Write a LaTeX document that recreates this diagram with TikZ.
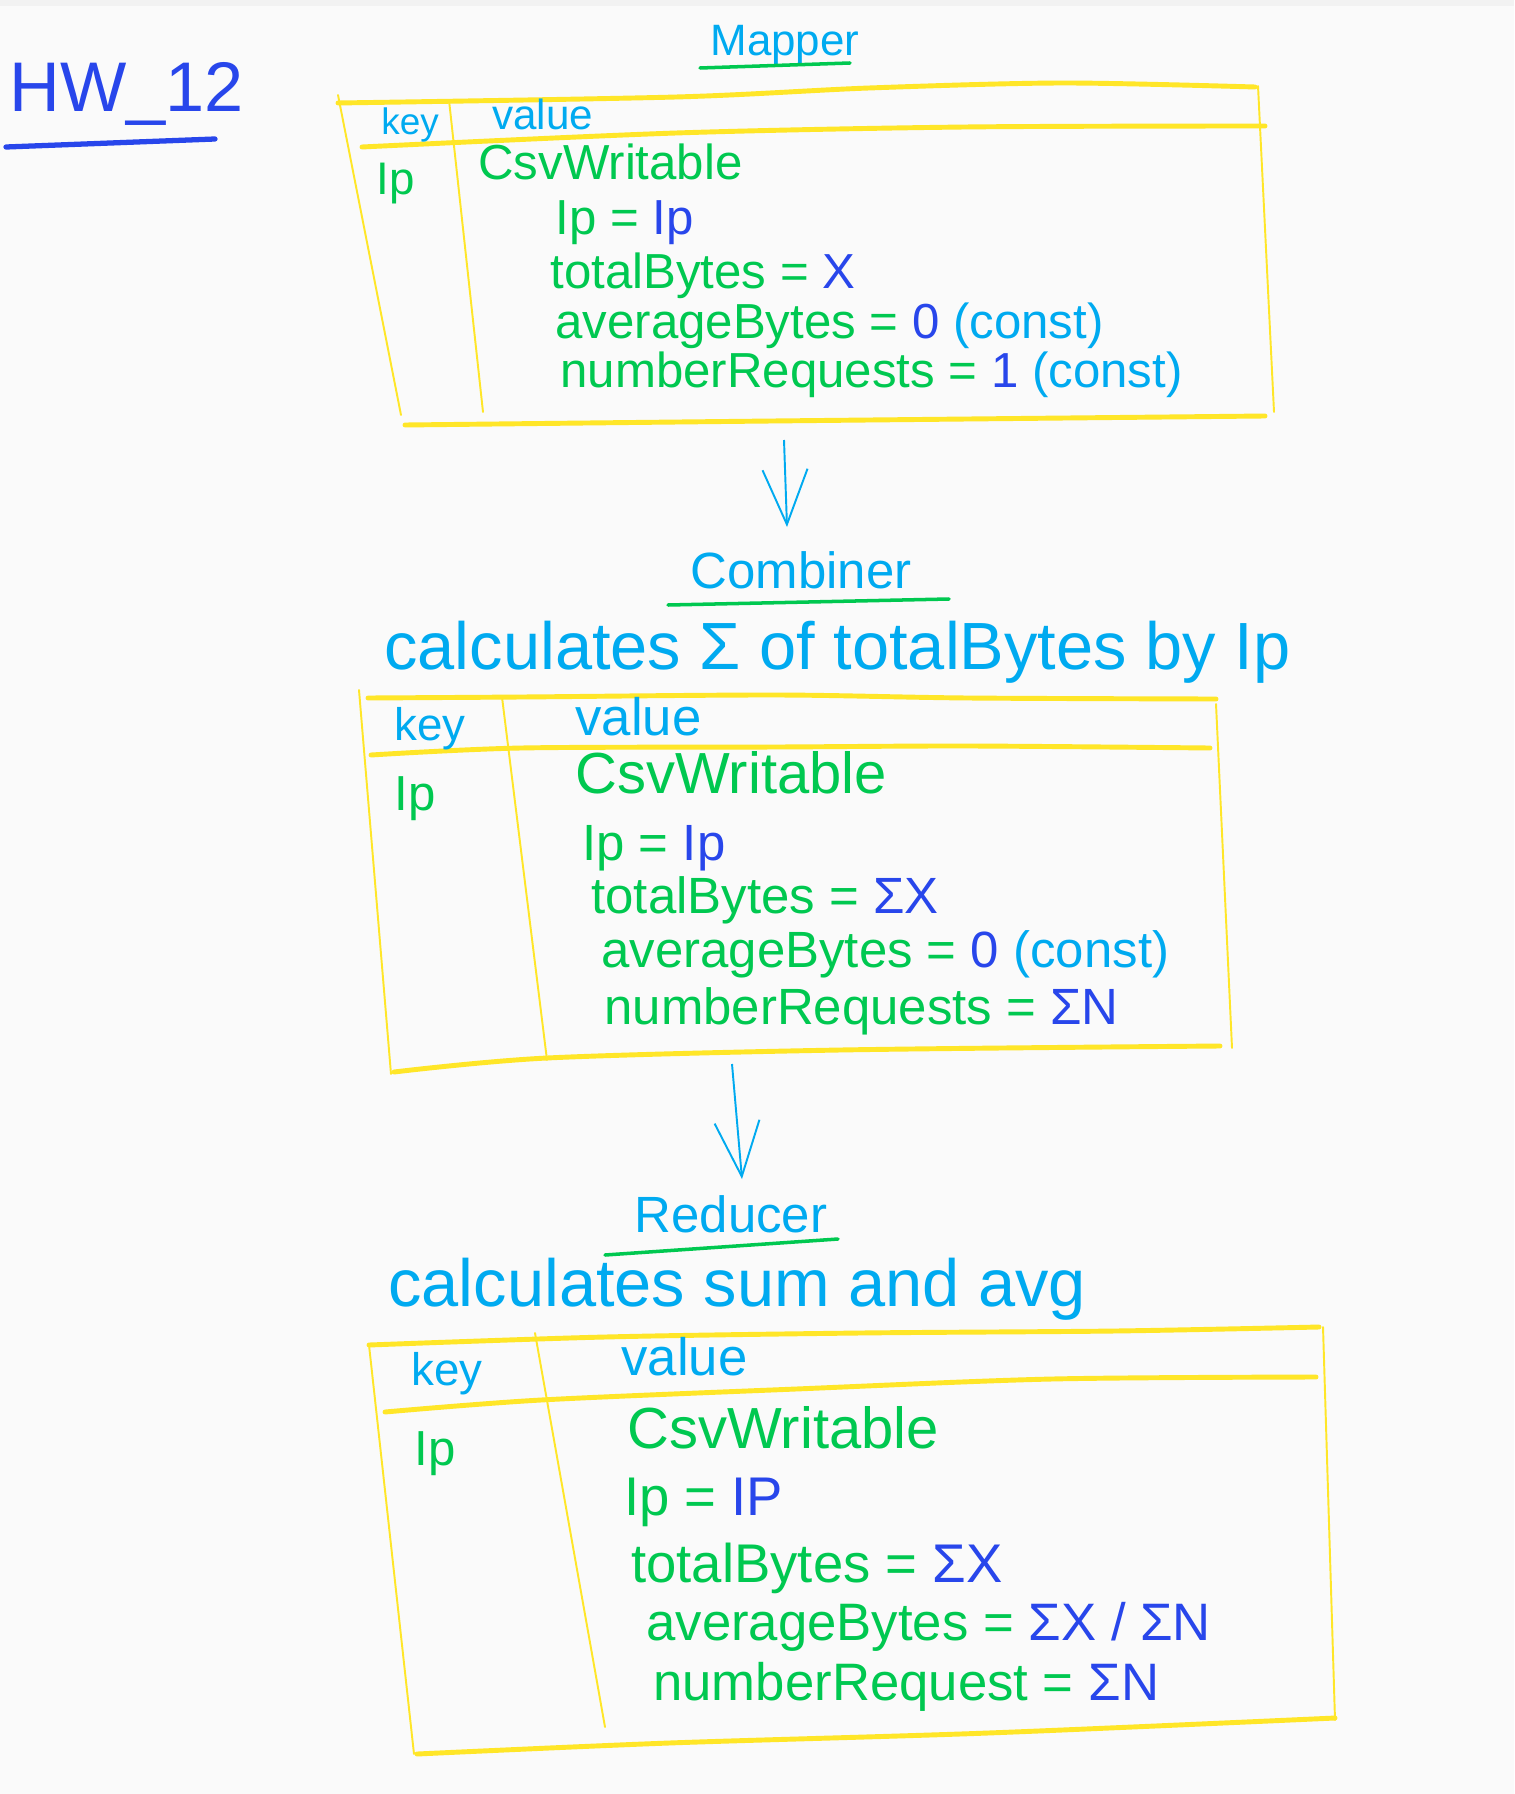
\documentclass[tikz,border=0pt]{standalone}
\usepackage{xcolor}
\usepackage{fontspec}
\setmainfont{Liberation Sans}
\usepackage{tikz}
\usetikzlibrary{arrows.meta,positioning}
\definecolor{ink}{RGB}{40,70,235}
\definecolor{sky}{RGB}{0,170,240}
\definecolor{leaf}{RGB}{0,200,80}
\definecolor{marker}{RGB}{255,230,40}
\definecolor{paper}{RGB}{250,250,250}
\newcommand{\valtxt}[1]{\textcolor{ink}{#1}}
\newcommand{\notetxt}[1]{\textcolor{sky}{#1}}

\begin{document}
\begin{tikzpicture}[
  x=0.02cm, y=-0.02cm,
  hw/.style={font=\fontsize{40}{40}\selectfont, text=ink, anchor=base west, inner sep=0pt},
  ttl/.style={font=\fontsize{#1}{#1}\selectfont, text=sky, anchor=base, inner sep=0pt},
  note/.style={font=\fontsize{38}{38}\selectfont, text=sky, anchor=base west, inner sep=0pt},
  lbl/.style={font=\fontsize{#1}{#1}\selectfont, text=sky, anchor=base west, inner sep=0pt},
  fld/.style={font=\fontsize{#1}{#1}\selectfont, text=leaf, anchor=base west, inner sep=0pt},
  rule/.style={line width=2.8pt, marker, line cap=round},
  edge/.style={line width=1.1pt, marker, line cap=round},
  uline/.style={line width=2pt, leaf, line cap=round},
  arrow/.style={-{Straight Barb[length=11mm,width=9mm]}, sky, line width=1.1pt}
]
  \fill[paper] (0,0) rectangle (1514,1794);
  \useasboundingbox (0,0) rectangle (1514,1794);
  \fill[gray!10] (0,0) rectangle (1514,6);

  % ── heading ──
  \node[hw] (hw) at (9,112) {HW\_12};
  \draw[line width=3pt, ink, line cap=round] (6,147) -- (215,139);

  % ── MAPPER ──
  \node[ttl=25] (mt) at (785,56) {Mapper};
  \draw[uline] (700,68) -- (850,63);

  \draw[rule] plot[smooth] coordinates {(338,103) (676,97) (869,88) (1062,83) (1255,87)};
  \draw[rule] plot[smooth] coordinates {(362,147) (676,133) (965,127) (1265,126)};
  \draw[rule] plot[smooth] coordinates {(405,425) (772,421) (1265,416)};
  \draw[edge] (338,95) -- (401,415);
  \draw[edge] (449,100) -- (483,412);
  \draw[edge] (1258,86) -- (1274,412);

  \node[lbl=21] (mk) at (381,135) {key};
  \node[lbl=24] (mv) at (492,130) {value};
  \node[fld=26] (mip) at (376,195) {Ip};
  \node[fld=28] (mc) at (478,180) {CsvWritable};
  \node[fld=28] (m1) at (555,235) {Ip = \valtxt{Ip}};
  \node[fld=28] (m2) at (550,289) {totalBytes = \valtxt{X}};
  \node[fld=28] (m3) at (555,338) {averageBytes = \valtxt{0} \notetxt{(const)}};
  \node[fld=28] (m4) at (560,387) {numberRequests = \valtxt{1} \notetxt{(const)}};

  \coordinate (mapout) at (784,440);
  \coordinate (combin) at (787,527);
  \draw[arrow] (mapout) -- (combin);

  % ── COMBINER ──
  \node[ttl=29] (ct) at (801,588) {Combiner};
  \draw[uline] (668,605) -- (949,599);
  \node[note] (cn) at (384,669) {calculates Σ of totalBytes by Ip};

  \draw[rule] plot[smooth] coordinates {(368,698) (521,697) (776,695) (968,698) (1216,699)};
  \draw[rule] plot[smooth] coordinates {(371,755) (521,748) (776,747) (968,746) (1210,748)};
  \draw[rule] plot[smooth] coordinates {(394,1072) (547,1058) (840,1050) (1220,1046)};
  \draw[edge] (359,690) -- (391,1074);
  \draw[edge] (502,697) -- (547,1060);
  \draw[edge] (1216,704) -- (1232,1048);

  \node[lbl=26] (ck) at (394,740) {key};
  \node[lbl=30] (cv) at (575,735) {value};
  \node[fld=28] (cip) at (394,810) {Ip};
  \node[fld=33] (cc) at (575,793) {CsvWritable};
  \node[fld=29] (c1) at (582,860) {Ip = \valtxt{Ip}};
  \node[fld=29] (c2) at (591,913) {totalBytes = \valtxt{ΣX}};
  \node[fld=29] (c3) at (601,967) {averageBytes = \valtxt{0} \notetxt{(const)}};
  \node[fld=29] (c4) at (604,1024) {numberRequests = \valtxt{ΣN}};

  \coordinate (combout) at (732,1064);
  \coordinate (redin) at (742,1179);
  \draw[arrow] (combout) -- (redin);

  % ── REDUCER ──
  \node[ttl=29] (rt) at (731,1232) {Reducer};
  \draw[uline] (605,1255) -- (838,1239);
  \node[note] (rn) at (388,1306) {calculates sum and avg};

  \draw[rule] plot[smooth] coordinates {(369,1345) (605,1337) (860,1333) (1115,1331) (1319,1327)};
  \draw[rule] plot[smooth] coordinates {(385,1412) (541,1400) (796,1389) (1052,1379) (1316,1377)};
  \draw[rule] plot[smooth] coordinates {(417,1754) (669,1743) (988,1733) (1335,1718)};
  \draw[edge] (369,1345) -- (414,1754);
  \draw[edge] (535,1333) -- (605,1727);
  \draw[edge] (1323,1327) -- (1335,1720);

  \node[lbl=26] (rk) at (411,1385) {key};
  \node[lbl=30] (rv) at (621,1375) {value};
  \node[fld=28] (rip) at (414,1465) {Ip};
  \node[fld=33] (rc) at (627,1448) {CsvWritable};
  \node[fld=31] (r1) at (624,1515) {Ip = \valtxt{IP}};
  \node[fld=31] (r2) at (631,1582) {totalBytes = \valtxt{ΣX}};
  \node[fld=30] (r3) at (646,1640) {averageBytes = \valtxt{ΣX / ΣN}};
  \node[fld=30] (r4) at (653,1700) {numberRequest = \valtxt{ΣN}};
\end{tikzpicture}
\end{document}
